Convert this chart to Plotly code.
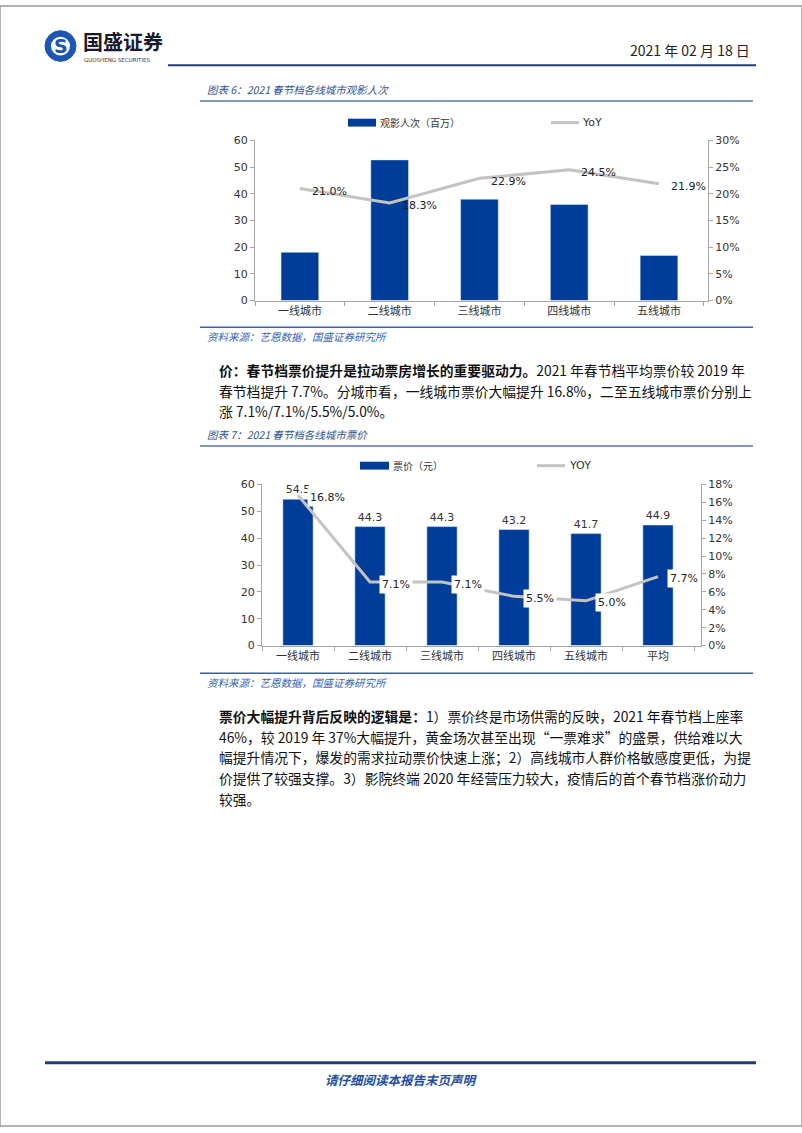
import plotly.graph_objects as go

W, H = 802, 1133

# ---------------- data ----------------
cities1 = ["一线城市", "二线城市", "三线城市", "四线城市", "五线城市"]
audience = [18.1, 52.7, 38.0, 36.0, 16.9]          # 观影人次（百万）
audience_yoy = [0.210, 0.183, 0.229, 0.245, 0.219]  # YoY

cities2 = ["一线城市", "二线城市", "三线城市", "四线城市", "五线城市", "平均"]
price = [54.5, 44.3, 44.3, 43.2, 41.7, 44.9]        # 票价（元）
price_yoy = [0.168, 0.071, 0.071, 0.055, 0.050, 0.077]

left_ticks1 = [0, 10, 20, 30, 40, 50, 60]
right_ticks1 = [0, 0.05, 0.10, 0.15, 0.20, 0.25, 0.30]
left_ticks2 = [0, 10, 20, 30, 40, 50, 60]
right_ticks2 = [0, 0.02, 0.04, 0.06, 0.08, 0.10, 0.12, 0.14, 0.16, 0.18]

# ---------------- style ----------------
BAR = "#003d99"
LINE = "#c3c3c3"
AXIS = "#a6a6a6"
TXT = "#333333"
NUM_FONT = "DejaVu Sans, Noto Sans CJK SC"
CJK = "Noto Sans CJK SC"
TITLE_C = "#34528f"
SRC_C = "#3564b4"
NAVY = "#1f3d7a"


def X(px):
    return px / W


def Y(py):
    return 1 - py / H


fig = go.Figure()

# chart 1
fig.add_trace(go.Bar(x=cities1, y=audience, marker_color=BAR, xaxis="x", yaxis="y",
                     showlegend=False, hoverinfo="x+y"))
fig.add_trace(go.Scatter(x=cities1, y=audience_yoy, mode="lines", line=dict(color=LINE, width=3),
                         xaxis="x", yaxis="y2", showlegend=False, cliponaxis=False))
# chart 2
fig.add_trace(go.Bar(x=cities2, y=price, marker_color=BAR, xaxis="x2", yaxis="y3",
                     text=[f"{v:.1f}" for v in price], textposition="outside",
                     textfont=dict(family=NUM_FONT, size=11, color=TXT),
                     cliponaxis=False, showlegend=False))
fig.add_trace(go.Scatter(x=cities2, y=price_yoy, mode="lines", line=dict(color=LINE, width=3),
                         xaxis="x2", yaxis="y4", showlegend=False, cliponaxis=False))

ax_common = dict(showline=True, linecolor=AXIS, linewidth=1, showgrid=False, zeroline=False,
                 ticks="outside", ticklen=4, tickcolor=AXIS, fixedrange=True)
tickfont_num = dict(family=NUM_FONT, size=11, color=TXT)
tickfont_cjk = dict(family=CJK, size=11, color=TXT)

d1y = [Y(298), Y(136)]
d2y = [Y(647), Y(484)]

layout = dict(
    width=W, height=H, autosize=False,
    margin=dict(l=0, r=0, t=0, b=0),
    paper_bgcolor="white", plot_bgcolor="white",
    bargap=0.58,
    showlegend=False,
    xaxis=dict(domain=[X(255), X(708)], anchor="y", tickson="boundaries",
               tickfont=tickfont_cjk, **ax_common),
    yaxis=dict(domain=d1y, anchor="x", range=[0, 60], tickvals=left_ticks1,
               tickfont=tickfont_num, **ax_common),
    yaxis2=dict(domain=d1y, anchor="x", overlaying="y", side="right", range=[0, 0.30],
                tickvals=right_ticks1, tickformat=".0%", tickfont=tickfont_num, **ax_common),
    xaxis2=dict(domain=[X(262), X(701)], anchor="y3", tickson="boundaries",
                tickfont=tickfont_cjk, **ax_common),
    yaxis3=dict(domain=d2y, anchor="x2", range=[0, 60], tickvals=left_ticks2,
                tickfont=tickfont_num, **ax_common),
    yaxis4=dict(domain=d2y, anchor="x2", overlaying="y3", side="right", range=[0, 0.18],
                tickvals=right_ticks2, tickformat=".0%", tickfont=tickfont_num, **ax_common),
)
fig.update_layout(**layout)

shapes = []
ann = []


def hline(x0, x1, y, color, width):
    shapes.append(dict(type="line", xref="paper", yref="paper", x0=X(x0), x1=X(x1),
                       y0=Y(y), y1=Y(y), line=dict(color=color, width=width)))


def text(x, y, s, size=14, color="#111", family=CJK, xanchor="left", **kw):
    ann.append(dict(xref="paper", yref="paper", x=X(x), y=Y(y), text=s, showarrow=False,
                    xanchor=xanchor, yanchor="middle", font=dict(size=size, color=color, family=family), **kw))


# page border
shapes.append(dict(type="rect", xref="paper", yref="paper", x0=0, x1=1, y0=0, y1=1,
                   line=dict(color="#9a9a9a", width=1.5)))

# header
shapes.append(dict(type="circle", xref="paper", yref="paper", x0=X(45), x1=X(76), y0=Y(56), y1=Y(25),
                   fillcolor="#1d55b3", line=dict(color="#1d55b3", width=1)))
shapes.append(dict(type="circle", xref="paper", yref="paper", x0=X(51), x1=X(70), y0=Y(50), y1=Y(31),
                   fillcolor="white", line=dict(color="white", width=0)))
text(60.5, 40.5, "<b>S</b>", size=19, color="#1d55b3", family="DejaVu Sans", xanchor="center")
text(81, 36, "<b>国盛证券</b>", size=20, color="#1a1a2e")
text(82, 55, "GUOSHENG SECURITIES", size=5.5, color="#333", family="DejaVu Sans")
text(752, 45, "2021 年 02 月 18 日", size=14, color="#222", xanchor="right")
hline(168, 756, 60, NAVY, 2)

# chart 1 title and frame lines
text(205, 84, "<i>图表 6：2021 春节档各线城市观影人次</i>", size=10.5, color=TITLE_C)
hline(200, 753, 96, "#5a74a8", 1.5)
hline(200, 753, 325, "#3a5fa8", 1.5)
text(205, 334, "<i>资料来源：艺恩数据，国盛证券研究所</i>", size=10.5, color=SRC_C)

# chart 1 legend
shapes.append(dict(type="rect", xref="paper", yref="paper", x0=X(348), x1=X(376), y0=Y(122), y1=Y(114),
                   fillcolor=BAR, line=dict(width=0)))
text(378, 118, "观影人次（百万）", size=10, color=TXT)
hline(551, 579, 118, LINE, 3)
text(580, 118, "YoY", size=11, color=TXT, family=NUM_FONT)

# chart 1 line labels
for c, v in zip(cities1, audience_yoy):
    ann.append(dict(xref="x", yref="y2", x=c, y=v, text=f"{v*100:.1f}%", showarrow=False,
                    xanchor="left", yanchor="middle", xshift=10, yshift=-3,
                    font=dict(family=NUM_FONT, size=11, color="#222")))

# paragraph 1
para1 = [
    "<b>价：春节档票价提升是拉动票房增长的重要驱动力。</b>2021 年春节档平均票价较 2019 年",
    "春节档提升 7.7%。分城市看，一线城市票价大幅提升 16.8%，二至五线城市票价分别上",
    "涨 7.1%/7.1%/5.5%/5.0%。",
]
for i, s in enumerate(para1):
    text(217, 368 + 21 * i, s, size=13.8, color="#111")

# chart 2 title and frame lines
text(205, 433, "<i>图表 7：2021 春节档各线城市票价</i>", size=10.5, color=TITLE_C)
hline(200, 753, 445, "#5a74a8", 1.5)
hline(200, 753, 675, "#3a5fa8", 1.5)
text(205, 684, "<i>资料来源：艺恩数据，国盛证券研究所</i>", size=10.5, color=SRC_C)

# chart 2 legend
shapes.append(dict(type="rect", xref="paper", yref="paper", x0=X(360), x1=X(389), y0=Y(469), y1=Y(461),
                   fillcolor=BAR, line=dict(width=0)))
text(391, 465, "票价（元）", size=10, color=TXT)
hline(537, 565, 465, LINE, 3)
text(567, 465, "YOY", size=11, color=TXT, family=NUM_FONT)

# chart 2 line labels
for c, v in zip(cities2, price_yoy):
    ann.append(dict(xref="x2", yref="y4", x=c, y=v, text=f"{v*100:.1f}%", showarrow=False,
                    xanchor="left", yanchor="middle", xshift=9, yshift=-2,
                    bgcolor="white", borderpad=2,
                    font=dict(family=NUM_FONT, size=11, color="#222")))

# paragraph 2
para2 = [
    "<b>票价大幅提升背后反映的逻辑是：</b>1）票价终是市场供需的反映，2021 年春节档上座率",
    "46%，较 2019 年 37%大幅提升，黄金场次甚至出现“一票难求”的盛景，供给难以大",
    "幅提升情况下，爆发的需求拉动票价快速上涨；2）高线城市人群价格敏感度更低，为提",
    "价提供了较强支撑。3）影院终端 2020 年经营压力较大，疫情后的首个春节档涨价动力",
    "较强。",
]
for i, s in enumerate(para2):
    text(217, 718 + 21 * i, s, size=13.8, color="#111")

# footer
hline(45, 756, 1069, NAVY, 3)
text(401, 1086, "<b><i>请仔细阅读本报告末页声明</i></b>", size=12.5, color="#1f4ea0", xanchor="center")

fig.update_layout(shapes=shapes, annotations=ann)
fig.write_html("out.html")
